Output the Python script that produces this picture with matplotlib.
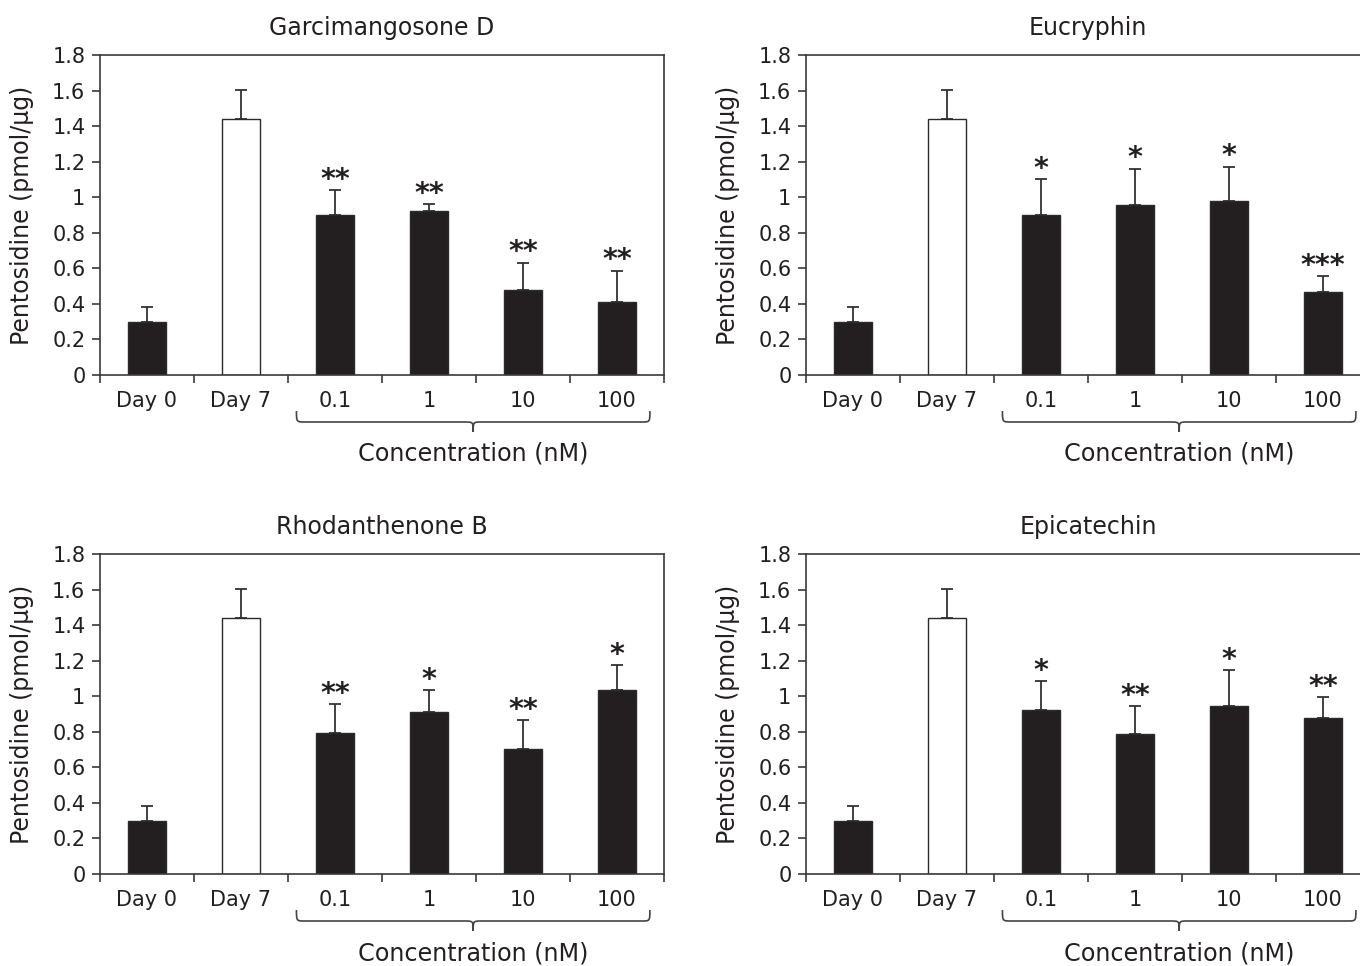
import matplotlib
matplotlib.use("Agg")
import matplotlib.pyplot as plt
import numpy as np
from matplotlib.path import Path
from matplotlib.patches import PathPatch
import matplotlib.transforms as mtransforms

plt.rcParams['font.family'] = ['DejaVu Sans']

categories = ["Day 0", "Day 7", "0.1", "1", "10", "100"]
titles = ["Garcimangosone D", "Eucryphin", "Rhodanthenone B", "Epicatechin"]

means_gd = [0.30, 1.44, 0.90, 0.92, 0.48, 0.41]
upper_gd = [0.38, 1.605, 1.04, 0.96, 0.63, 0.585]
sig_gd = ["", "", "**", "**", "**", "**"]

means_eu = [0.30, 1.44, 0.90, 0.955, 0.98, 0.465]
upper_eu = [0.38, 1.605, 1.10, 1.16, 1.17, 0.555]
sig_eu = ["", "", "*", "*", "*", "***"]

means_rb = [0.30, 1.44, 0.795, 0.91, 0.705, 1.035]
upper_rb = [0.38, 1.605, 0.955, 1.035, 0.865, 1.175]
sig_rb = ["", "", "**", "*", "**", "*"]

means_ep = [0.30, 1.44, 0.925, 0.79, 0.945, 0.88]
upper_ep = [0.38, 1.605, 1.085, 0.945, 1.145, 0.995]
sig_ep = ["", "", "*", "**", "*", "**"]

yticks = [0, 0.2, 0.4, 0.6, 0.8, 1.0, 1.2, 1.4, 1.6, 1.8]
ylabel = "Pentosidine (pmol/μg)"
xlabel = "Concentration (nM)"

panels = [
    (means_gd, upper_gd, sig_gd),
    (means_eu, upper_eu, sig_eu),
    (means_rb, upper_rb, sig_rb),
    (means_ep, upper_ep, sig_ep),
]

W, H = 1360, 966
fig = plt.figure(figsize=(W / 100, H / 100), dpi=100)

# axes rectangles in pixels: left, top, right, bottom
rects = [
    (100, 55, 664, 375),
    (806, 55, 1370, 375),
    (100, 554, 664, 874),
    (806, 554, 1370, 874),
]

spine_col = "#3a3a3a"
text_col = "#231f20"
bar_black = "#231f20"

for (means, upper, sig), title, (l, t, r, b) in zip(panels, titles, rects):
    ax = fig.add_axes([l / W, 1 - b / H, (r - l) / W, (b - t) / H])
    x = np.arange(len(categories))
    colors = [bar_black, "white"] + [bar_black] * (len(categories) - 2)
    errs = np.array(upper) - np.array(means)
    ax.bar(x, means, width=0.41, color=colors, edgecolor="#2a2a2a", linewidth=1.0, zorder=2)
    ax.errorbar(x, means, yerr=[np.zeros_like(errs), errs], fmt="none",
                ecolor="#333333", elinewidth=1.3, capsize=4.5, capthick=1.3, zorder=1)
    for xi, u, s in zip(x, upper, sig):
        if s:
            ax.annotate(s, (xi, u), xytext=(0, 1.8), textcoords="offset points",
                        ha="center", va="baseline", fontsize=20.5, fontweight="bold",
                        color=text_col)

    ax.set_xlim(-0.5, len(categories) - 0.5)
    ax.set_ylim(0, 1.8)
    ax.set_yticks(yticks)
    ax.set_yticklabels([f"{v:g}" for v in yticks])
    ax.set_xticks(np.arange(len(categories) + 1) - 0.5)
    ax.set_xticklabels([])
    ax.set_xticks(x, minor=True)
    ax.set_xticklabels(categories, minor=True)
    ax.tick_params(axis="x", which="major", direction="out", length=6, width=1.2, color=spine_col)
    ax.tick_params(axis="x", which="minor", length=0, pad=11.5, labelsize=15, labelcolor=text_col)
    ax.tick_params(axis="y", direction="out", length=6, width=1.2, color=spine_col,
                   pad=4.5, labelsize=15, labelcolor=text_col)
    for sp in ax.spines.values():
        sp.set_color(spine_col)
        sp.set_linewidth(1.2)

    ax.set_title(title, fontsize=17, color=text_col, pad=14.5)
    ax.text(-78 / (r - l), 0.5, ylabel, rotation=90, ha="center", va="center",
            fontsize=17, color=text_col, transform=ax.transAxes)

    # brace under concentration categories
    ah = (b - t)
    trans = mtransforms.blended_transform_factory(ax.transData, ax.transAxes)
    x0, x1 = 2 - 0.41, 5 + 0.35
    xc = (x0 + x1) / 2
    yt = -36 / ah
    yh = -47 / ah
    ytip = -57 / ah
    rr = 0.09
    verts = [
        (x0, yt), (x0, yh), (x0, yh), (x0 + rr, yh),
        (xc - rr, yh),
        (xc, yh), (xc, yh), (xc, ytip),
        (xc, yh), (xc, yh), (xc + rr, yh),
        (x1 - rr, yh),
        (x1, yh), (x1, yh), (x1, yt),
    ]
    codes = [Path.MOVETO, Path.CURVE4, Path.CURVE4, Path.CURVE4,
             Path.LINETO,
             Path.CURVE4, Path.CURVE4, Path.CURVE4,
             Path.CURVE4, Path.CURVE4, Path.CURVE4,
             Path.LINETO,
             Path.CURVE4, Path.CURVE4, Path.CURVE4]
    patch = PathPatch(Path(verts, codes), transform=trans, fill=False,
                      edgecolor="#444444", linewidth=1.2, clip_on=False)
    ax.add_patch(patch)
    ax.text(xc, -79 / ah, xlabel, transform=trans, ha="center", va="center",
            fontsize=17.2, color=text_col)

fig.savefig("out.png", dpi=100)
